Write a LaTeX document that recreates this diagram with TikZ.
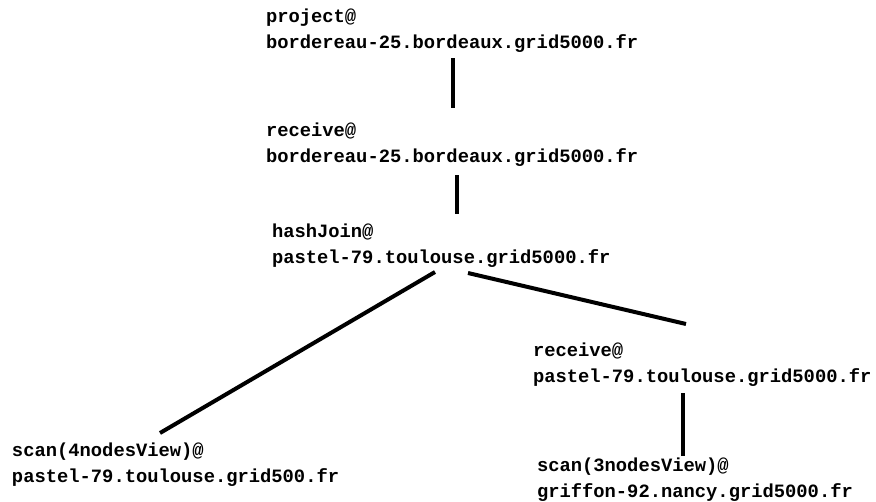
\documentclass[tikz,border=0pt]{standalone}
\usepackage{fontspec}
\newfontfamily\hostmono{Liberation Mono}
\begin{document}
\begin{tikzpicture}[x=1pt,y=-1pt,
  opnode/.style={inner sep=0pt,outer sep=0pt,anchor=base west,align=left,
    font=\hostmono\bfseries\fontsize{18.8}{25.5}\selectfont},
  edge/.style={line width=4pt,black}]
\fill[white] (0,0) rectangle (876,501);
\useasboundingbox (0,0) rectangle (876,501);
\node[opnode] (n1) at (266,48) {project@\\bordereau-25.bordeaux.grid5000.fr};
\node[opnode] (n2) at (266,162) {receive@\\bordereau-25.bordeaux.grid5000.fr};
\node[opnode] (n3) at (272,263) {hashJoin@\\pastel-79.toulouse.grid5000.fr};
\node[opnode] (n4) at (533,382) {receive@\\pastel-79.toulouse.grid5000.fr};
\node[opnode] (n5) at (537,497) {scan(3nodesView)@\\griffon-92.nancy.grid5000.fr};
\node[opnode] (n6) at (12,482) {scan(4nodesView)@\\pastel-79.toulouse.grid500.fr};
\draw[edge] ([shift={(187,10)}]n1.base west) -- ([shift={(187,-54)}]n2.base west);
\draw[edge] ([shift={(191,13)}]n2.base west) -- ([shift={(185,-49)}]n3.base west);
\draw[edge] ([shift={(163,9)}]n3.base west) -- ([shift={(148,-49)}]n6.base west);
\draw[edge] ([shift={(196,10)}]n3.base west) -- ([shift={(153,-58)}]n4.base west);
\draw[edge] ([shift={(150,11)}]n4.base west) -- ([shift={(146,-41)}]n5.base west);
\end{tikzpicture}
\end{document}
